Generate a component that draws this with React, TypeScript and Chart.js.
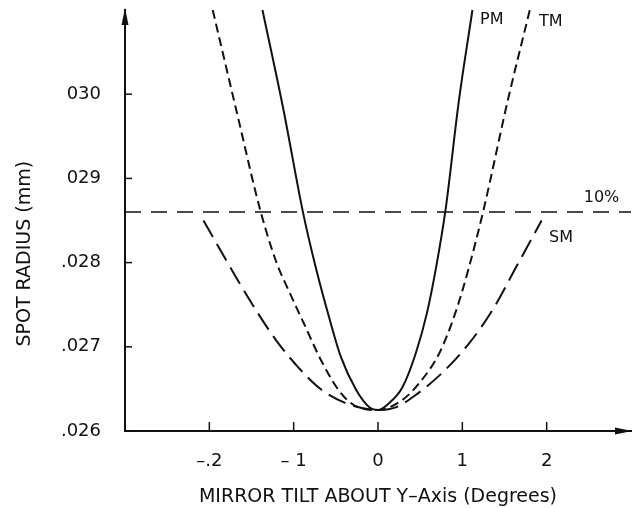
import React, { useEffect, useRef } from "react";
import { Chart, registerables } from "chart.js";

Chart.register(...registerables);

// ---- data ----
const pmX = [-1.37, -1.12, -0.89, -0.74, -0.58, -0.44, -0.26, -0.1, 0, 0.13, 0.29, 0.45, 0.58, 0.69, 0.8, 0.96, 1.12];
const pmY = [0.031, 0.02981, 0.0286, 0.02795, 0.02735, 0.02688, 0.02649, 0.02628, 0.02625, 0.02633, 0.02652, 0.02693, 0.0274, 0.02795, 0.02862, 0.02993, 0.031];

const tmX = [-1.96, -1.68, -1.39, -1.2, -1.06, -0.88, -0.66, -0.44, -0.23, 0, 0.29, 0.49, 0.73, 0.93, 1.08, 1.25, 1.54, 1.8];
const tmY = [0.031, 0.02981, 0.0286, 0.02799, 0.02767, 0.02728, 0.02681, 0.02645, 0.02628, 0.02625, 0.02637, 0.02657, 0.02693, 0.02744, 0.02795, 0.02862, 0.02993, 0.031];

const smX = [-2.07, -1.87, -1.65, -1.45, -1.21, -0.94, -0.67, -0.38, 0, 0.21, 0.45, 0.76, 1.08, 1.36, 1.64, 1.94];
const smY = [0.0285, 0.02815, 0.02777, 0.02744, 0.02708, 0.02675, 0.02649, 0.02633, 0.02625, 0.02628, 0.02643, 0.02669, 0.02704, 0.02744, 0.02795, 0.0285];

const limitX = [-3, 3];
const limitY = [0.0286, 0.0286];

const xTicks = [-2, -1, 0, 1, 2];
const xTickLabels = ["\u2013.2", "\u2013 1", "0", "1", "2"];
const yTicks = [0.026, 0.027, 0.028, 0.029, 0.03];
const yTickLabels = [".026", ".027", ".028", "029", "030"];

const curveLabelText = ["PM", "TM", "10%", "SM"];
const curveLabelX = [1.35, 2.05, 2.65, 2.17];
const curveLabelY = [0.03088, 0.03086, 0.02877, 0.02829];

const INK = "#111";

const pts = (xs: number[], ys: number[]) => xs.map((x, i) => ({ x, y: ys[i] }));

const decorPlugin = {
  id: "decor",
  afterDraw(chart: any) {
    const { ctx } = chart;
    const xs = chart.scales.x;
    const ys = chart.scales.y;
    ctx.save();
    ctx.strokeStyle = INK;
    ctx.fillStyle = INK;
    ctx.lineWidth = 1.5;
    // inward tick marks
    xs.ticks.forEach((t: any) => {
      const px = xs.getPixelForValue(t.value);
      ctx.beginPath();
      ctx.moveTo(px, ys.bottom);
      ctx.lineTo(px, ys.bottom - 9);
      ctx.stroke();
    });
    ys.ticks.forEach((t: any) => {
      const py = ys.getPixelForValue(t.value);
      ctx.beginPath();
      ctx.moveTo(xs.left, py);
      ctx.lineTo(xs.left + 7, py);
      ctx.stroke();
    });
    // arrow heads
    const ax = xs.left;
    const topY = ys.top;
    ctx.beginPath();
    ctx.moveTo(ax, topY - 2);
    ctx.lineTo(ax - 3.5, topY + 15);
    ctx.lineTo(ax + 3.5, topY + 15);
    ctx.closePath();
    ctx.fill();
    const rx = xs.right;
    const by = ys.bottom;
    ctx.beginPath();
    ctx.moveTo(rx + 1, by);
    ctx.lineTo(rx - 16, by - 3.5);
    ctx.lineTo(rx - 16, by + 3.5);
    ctx.closePath();
    ctx.fill();
    // curve labels
    ctx.font = "16px 'DejaVu Sans'";
    ctx.textAlign = "center";
    ctx.textBaseline = "middle";
    curveLabelText.forEach((txt, i) => {
      ctx.fillText(txt, xs.getPixelForValue(curveLabelX[i]), ys.getPixelForValue(curveLabelY[i]));
    });
    ctx.restore();
  },
};

export default function App() {
  const ref = useRef<HTMLCanvasElement>(null);
  useEffect(() => {
    if (!ref.current) return;
    const chart = new Chart(ref.current, {
      type: "line",
      data: {
        datasets: [
          {
            label: "PM",
            data: pts(pmX, pmY),
            borderColor: INK,
            borderWidth: 2,
            pointRadius: 0,
            cubicInterpolationMode: "monotone",
            clip: false as any,
          },
          {
            label: "TM",
            data: pts(tmX, tmY),
            borderColor: INK,
            borderWidth: 2,
            borderDash: [9, 5],
            pointRadius: 0,
            cubicInterpolationMode: "monotone",
            clip: false as any,
          },
          {
            label: "SM",
            data: pts(smX, smY),
            borderColor: INK,
            borderWidth: 2,
            borderDash: [19, 8],
            pointRadius: 0,
            cubicInterpolationMode: "monotone",
            clip: false as any,
          },
          {
            label: "10%",
            data: pts(limitX, limitY),
            borderColor: INK,
            borderWidth: 1.5,
            borderDash: [16, 10],
            pointRadius: 0,
          },
        ],
      },
      options: {
        responsive: false,
        animation: false,
        layout: { padding: { left: 0, top: 10, right: 5, bottom: 0 } },
        plugins: { legend: { display: false }, tooltip: { enabled: false } },
        scales: {
          x: {
            type: "linear",
            min: -3,
            max: 3,
            grid: { display: false },
            border: { display: true, color: INK, width: 2 },
            afterBuildTicks: (s: any) => {
              s.ticks = xTicks.map((v) => ({ value: v }));
            },
            afterFit: (s: any) => {
              s.height = 77;
              s.paddingLeft = 0;
              s.paddingRight = 0;
            },
            ticks: {
              color: INK,
              padding: 12,
              font: { family: "'DejaVu Sans'", size: 18 },
              callback: (v: any) => {
                const i = xTicks.indexOf(Number(v));
                return i >= 0 ? xTickLabels[i] : "";
              },
            },
            title: {
              display: true,
              text: "MIRROR TILT ABOUT Y\u2013Axis (Degrees)",
              color: INK,
              font: { family: "'DejaVu Sans'", size: 19 },
              padding: { top: 0, bottom: 0 },
            },
          },
          y: {
            type: "linear",
            min: 0.026,
            max: 0.031,
            grid: { display: false },
            border: { display: true, color: INK, width: 2 },
            afterBuildTicks: (s: any) => {
              s.ticks = yTicks.map((v) => ({ value: v }));
            },
            afterFit: (s: any) => {
              s.width = 125;
              s.paddingTop = 0;
              s.paddingBottom = 0;
            },
            ticks: {
              color: INK,
              padding: 16,
              font: { family: "'DejaVu Sans'", size: 18 },
              callback: (v: any) => {
                const i = yTicks.findIndex((t) => Math.abs(t - Number(v)) < 1e-7);
                return i >= 0 ? yTickLabels[i] : "";
              },
            },
            title: {
              display: true,
              text: "SPOT RADIUS (mm)           ",
              color: INK,
              font: { family: "'DejaVu Sans'", size: 19 },
              padding: { top: 14, bottom: 0 },
            },
          },
        },
      },
      plugins: [decorPlugin],
    });
    return () => chart.destroy();
  }, []);
  return (
    <div style={{ position: "absolute", left: 0, top: 0, width: 636, height: 508, background: "#fff" }}>
      <canvas ref={ref} width={636} height={508} style={{ display: "block" }} />
    </div>
  );
}
